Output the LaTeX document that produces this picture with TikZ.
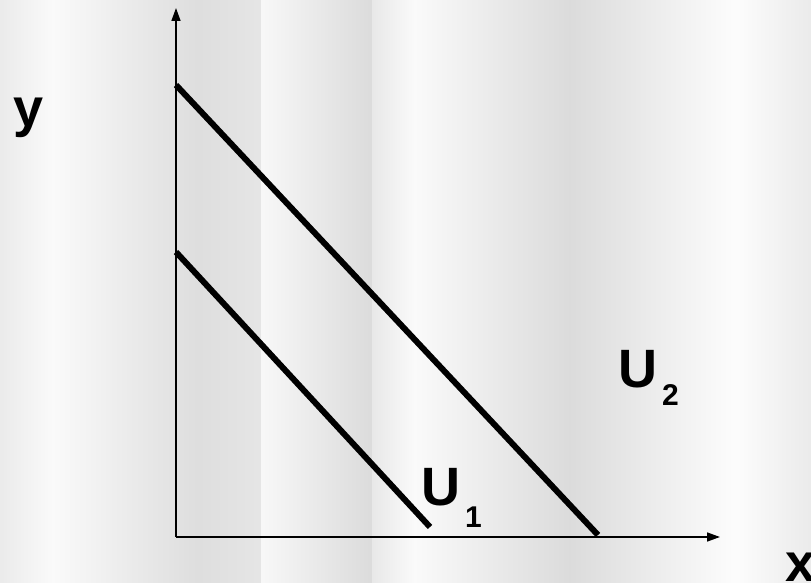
\documentclass[tikz,border=0pt]{standalone}
\usepackage{fontspec}
\setmainfont{Liberation Sans}
\usetikzlibrary{arrows.meta}

\begin{document}
\begin{tikzpicture}[x=1pt,y=-1pt,
  axis/.style={line width=1.5pt, -{Triangle[length=13pt,width=9pt]}},
  curve/.style={line width=6pt},
  lbl/.style={font=\bfseries\fontsize{54}{54}\selectfont, anchor=base west, inner sep=0pt},
  sub/.style={font=\bfseries\fontsize{30}{30}\selectfont, anchor=base west, inner sep=0pt}]
\useasboundingbox (0,0) rectangle (811,583);
\shade[left color=black!8, right color=black!2] (0,0) rectangle (52.5,583);
\shade[left color=black!2, right color=black!13] (52,0) rectangle (197.5,583);
\shade[left color=black!13, right color=black!10] (197,0) rectangle (261.5,583);
\shade[left color=black!3, right color=black!14] (261,0) rectangle (372.5,583);
\shade[left color=black!9, right color=black!2] (372,0) rectangle (414.5,583);
\shade[left color=black!2, right color=black!14] (414,0) rectangle (569.5,583);
\shade[left color=black!14, right color=black!1] (569,0) rectangle (735.5,583);
\shade[left color=black!1, right color=black!8] (735,0) rectangle (811,583);
\coordinate (origin) at (176,537);
\coordinate (ytip) at (176,8);
\coordinate (xtip) at (720,537);
\coordinate (u2top) at (176,85);
\coordinate (u2end) at (598,535);
\coordinate (u1top) at (176,252);
\coordinate (u1end) at (430,527);
\draw[axis] (origin) -- (ytip);
\draw[axis] (origin) -- (xtip);
\draw[curve] (u2top) -- (u2end);
\draw[curve] (u1top) -- (u1end);
\node[lbl] (ylab) at (13,127) {y};
\node[lbl] (xlab) at (785,581) {x};
\node[lbl] (u1lab) at (421,505) {U};
\node[sub] (u1sub) at (465,527) {1};
\node[lbl] (u2lab) at (618,387) {U};
\node[sub] (u2sub) at (662,405) {2};
\end{tikzpicture}
\end{document}
